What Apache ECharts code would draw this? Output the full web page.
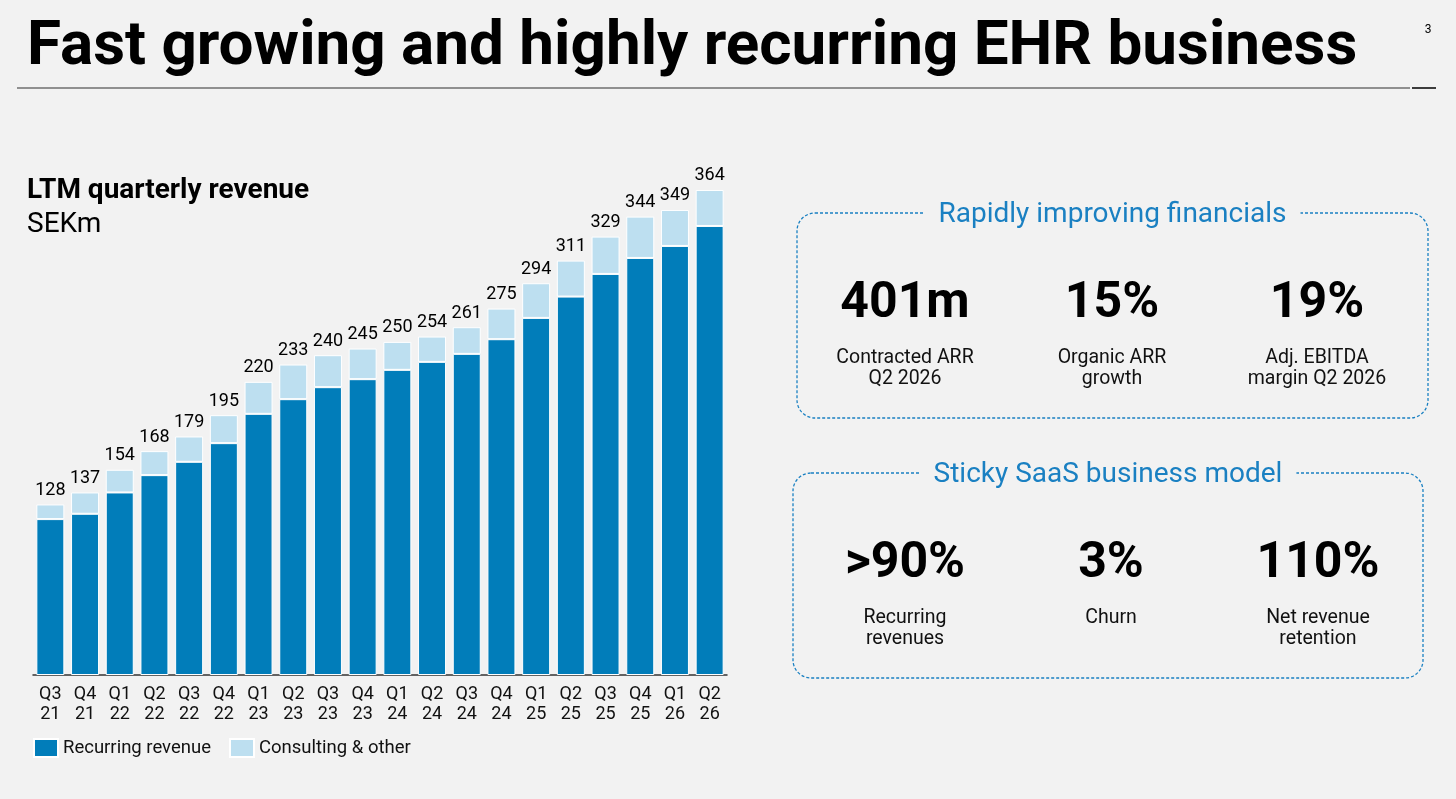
<!DOCTYPE html>
<html>

<head>
    <meta charset="utf-8" />
    <script src="https://cdn.jsdelivr.net/npm/echarts@6/dist/echarts.min.js"></script>
</head>

<body>
    <style>
        html,
        body {
            margin: 0;
            height: 100%;
            background: #f2f2f2;
        }

        #main {
            width: 1456px;
            height: 799px;
        }
    </style>
    <div id="main"></div>

    <script type="text/javascript">
        // LTM quarterly revenue, SEKm
        const quarters = ['Q3\n21', 'Q4\n21', 'Q1\n22', 'Q2\n22', 'Q3\n22', 'Q4\n22', 'Q1\n23', 'Q2\n23', 'Q3\n23', 'Q4\n23',
            'Q1\n24', 'Q2\n24', 'Q3\n24', 'Q4\n24', 'Q1\n25', 'Q2\n25', 'Q3\n25', 'Q4\n25', 'Q1\n26', 'Q2\n26'];
        const recurring = [117, 121, 137, 150, 160, 174, 196, 207, 216, 222, 229, 235, 241, 252, 268, 284, 301, 313, 322, 337];
        const consulting = [11, 16, 17, 18, 19, 21, 24, 26, 24, 23, 21, 19, 20, 23, 26, 27, 28, 31, 27, 27];
        const totals = [128, 137, 154, 168, 179, 195, 220, 233, 240, 245, 250, 254, 261, 275, 294, 311, 329, 344, 349, 364];

        // KPI boxes
        const kpiTop = [
            ['401m', 'Contracted ARR\nQ2 2026'],
            ['15%', 'Organic ARR\ngrowth'],
            ['19%', 'Adj. EBITDA\nmargin Q2 2026'],
        ];
        const kpiBottom = [
            ['>90%', 'Recurring\nrevenues'],
            ['3%', 'Churn'],
            ['110%', 'Net revenue\nretention'],
        ];

        const DARK = '#017dba';
        const LIGHT = '#bddff0';
        const BOXBLUE = '#1a80c2';
        const FONT = 'Roboto';

        function kpiBox(x, y, w, h, title, items, cols) {
            var els = [
                {
                    type: 'rect',
                    shape: { x: x, y: y, width: w, height: h, r: 18 },
                    style: { fill: 'none', stroke: BOXBLUE, lineWidth: 1.3, lineDash: [3, 2] },
                    silent: true,
                },
                {
                    type: 'text',
                    x: x + w / 2, y: y + 2,
                    style: {
                        text: title, fill: BOXBLUE, font: 'normal 28px ' + FONT,
                        align: 'center', verticalAlign: 'middle',
                        backgroundColor: '#f2f2f2', padding: [2, 14],
                    },
                    silent: true,
                },
            ];
            items.forEach(function (it, i) {
                els.push({
                    type: 'text', x: cols[i], y: y + 91,
                    style: { text: it[0], fill: '#000', font: 'bold 50px ' + FONT, align: 'center', verticalAlign: 'middle' },
                    silent: true,
                });
                els.push({
                    type: 'text', x: cols[i], y: y + 135,
                    style: { text: it[1], fill: '#111', font: 'normal 19.5px ' + FONT, align: 'center', verticalAlign: 'top', lineHeight: 21 },
                    silent: true,
                });
            });
            return els;
        }

        var chart = echarts.init(document.getElementById('main'), null, { renderer: 'canvas' });
        chart.setOption({
            backgroundColor: '#f2f2f2',
            animation: false,
            textStyle: { fontFamily: FONT },
            graphic: [
                {
                    type: 'text', x: 27, y: 48,
                    style: { text: 'Fast growing and highly recurring EHR business', fill: '#000', font: 'bold 62px ' + FONT, verticalAlign: 'middle' },
                },
                {
                    type: 'text', x: 1428, y: 30,
                    style: { text: '3', fill: '#000', font: 'normal 12px ' + FONT, align: 'center', verticalAlign: 'middle' },
                },
                {
                    type: 'line', shape: { x1: 17, y1: 88, x2: 1410, y2: 88 },
                    style: { stroke: '#6f6f6f', lineWidth: 1.5 },
                },
                {
                    type: 'line', shape: { x1: 1412, y1: 88, x2: 1436, y2: 88 },
                    style: { stroke: '#000', lineWidth: 1.5 },
                },
                {
                    type: 'text', x: 27, y: 191,
                    style: { text: 'LTM quarterly revenue', fill: '#000', font: 'bold 28px ' + FONT, verticalAlign: 'middle' },
                },
                {
                    type: 'text', x: 27, y: 225,
                    style: { text: 'SEKm', fill: '#000', font: 'normal 28px ' + FONT, verticalAlign: 'middle' },
                },
            ]
                .concat(kpiBox(797, 213, 631, 205, 'Rapidly improving financials', kpiTop, [905, 1112, 1317]))
                .concat(kpiBox(793, 473, 630, 205, 'Sticky SaaS business model', kpiBottom, [905, 1111, 1318])),
            legend: {
                left: 33,
                top: 738,
                padding: 0,
                icon: 'rect',
                itemWidth: 24,
                itemHeight: 18,
                itemGap: 18,
                textStyle: { fontSize: 18.5, color: '#111', fontFamily: FONT },
                data: ['Recurring revenue', 'Consulting & other'],
            },
            grid: {
                left: 33,
                right: 1456 - 727,
                top: 142,
                bottom: 799 - 675,
            },
            xAxis: {
                type: 'category',
                data: quarters,
                axisTick: { show: false },
                axisLine: { lineStyle: { color: '#333', width: 1.5 } },
                axisLabel: { color: '#111', fontSize: 18, lineHeight: 20, margin: 9, fontFamily: FONT },
            },
            yAxis: {
                type: 'value',
                min: 0,
                max: 400,
                show: false,
                splitLine: { show: false },
            },
            series: [
                {
                    name: 'Recurring revenue',
                    type: 'bar',
                    stack: 'rev',
                    barWidth: 28,
                    data: recurring,
                    itemStyle: { color: DARK, borderColor: '#fff', borderWidth: 1 },
                },
                {
                    name: 'Consulting & other',
                    type: 'bar',
                    stack: 'rev',
                    barWidth: 28,
                    data: consulting,
                    itemStyle: { color: LIGHT, borderColor: '#fff', borderWidth: 1 },
                    label: {
                        show: true,
                        position: 'top',
                        distance: 5,
                        color: '#000',
                        fontSize: 18,
                        fontFamily: FONT,
                        formatter: (p) => totals[p.dataIndex],
                    },
                },
            ],
        });
    </script>
</body>

</html>
